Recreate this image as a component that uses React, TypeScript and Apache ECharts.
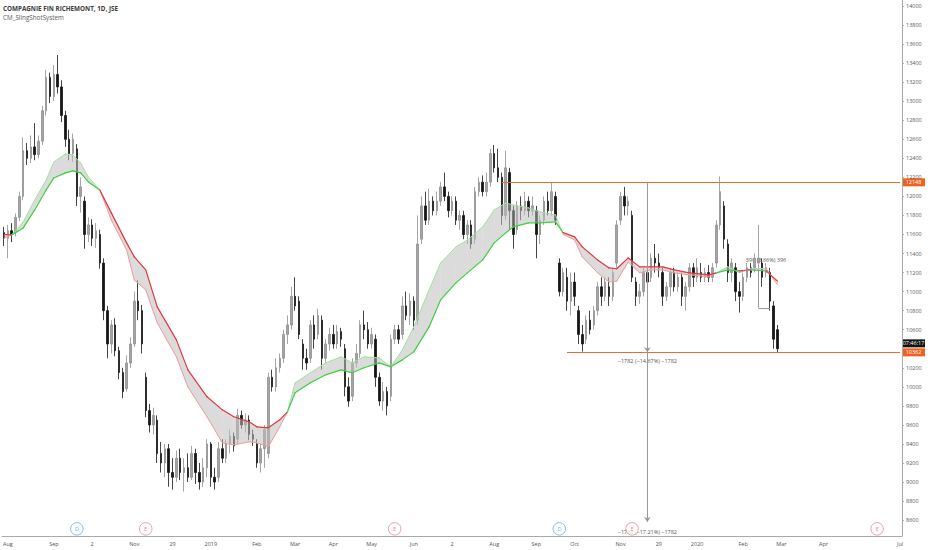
import React, { useEffect, useRef } from "react";
import * as echarts from "echarts";

const TITLE = "COMPAGNIE FIN RICHEMONT, 1D, JSE";
const INDICATOR = "CM_SlingShotSystem";

// one slot per bar, the last ones are the empty space on the right
const SLOT_COUNT = 235;

// x axis: [slot, label]
const xTicks: [number, string][] = [
  [1, "Aug"], [13, "Sep"], [23, "2"], [34, "Nov"], [44, "29"], [54, "2019"],
  [66, "Feb"], [76, "Mar"], [86, "Apr"], [96, "May"], [107, "Jun"], [117, "2"],
  [128, "Aug"], [139, "Sep"], [149, "Oct"], [161, "Nov"], [171, "29"], [181, "2020"],
  [193, "Feb"], [203, "Mar"], [214, "Apr"], [234, "Jul"],
];

const yTicks = [
  8600, 8800, 9000, 9200, 9400, 9600, 9800, 10000, 10200, 10400, 10600, 10800,
  11000, 11200, 11400, 11600, 11800, 12000, 12200, 12400, 12600, 12800, 13000,
  13200, 13400, 13600, 13800, 14000,
];
// 10400 sits under the price badges, so it gets no label
const yLabels = [
  8600, 8800, 9000, 9200, 9400, 9600, 9800, 10000, 10200, 10600, 10800,
  11000, 11200, 11400, 11600, 11800, 12000, 12200, 12400, 12600, 12800, 13000,
  13200, 13400, 13600, 13800, 14000,
];

// [open, close, low, high]
const candles: number[][] = [
  [11620, 11560, 11480, 11680], [11560, 11640, 11350, 11700], [11640, 11600, 11520, 11720],
  [11620, 11780, 11580, 11820], [11780, 12000, 11740, 12050], [12000, 12480, 11960, 12620],
  [12480, 12400, 12330, 12560], [12400, 12520, 12350, 12640], [12520, 12440, 12380, 12770],
  [12440, 12580, 12400, 12640], [12580, 12900, 12540, 12950], [12900, 13250, 12850, 13330],
  [13250, 13050, 12980, 13300], [13050, 13280, 13000, 13380], [13280, 13150, 13080, 13485],
  [13150, 12850, 12780, 13220], [12850, 12600, 12520, 12900], [12600, 12450, 12380, 12700],
  [12450, 12600, 12360, 12660], [12500, 12000, 11900, 12550], [12000, 12100, 11830, 12200],
  [11950, 11600, 11450, 12000], [11600, 11700, 11520, 11780], [11700, 11560, 11480, 11760],
  [11560, 11640, 11460, 11720], [11600, 11300, 11240, 11650], [11300, 10800, 10700, 11350],
  [10800, 10450, 10300, 10850], [10450, 10650, 10350, 10700], [10650, 10380, 10320, 10720],
  [10380, 10150, 10080, 10420], [10150, 9950, 9880, 10200], [9980, 10250, 9950, 10330],
  [10250, 10450, 10200, 10520], [10450, 10900, 10420, 11000], [10900, 10800, 10700, 11120],
  [10800, 10450, 10350, 10860], [10100, 9750, 9680, 10150], [9750, 9600, 9520, 9820],
  [9600, 9700, 9500, 9780], [9650, 9300, 9200, 9700], [9300, 9200, 9100, 9420],
  [9200, 9350, 9050, 9400], [9350, 9100, 8950, 9400], [9100, 9050, 8920, 9250],
  [9050, 9250, 9000, 9330], [9250, 9100, 9020, 9350], [9100, 9150, 8900, 9250],
  [9150, 9050, 9000, 9300], [9050, 9300, 9020, 9380], [9300, 9100, 8980, 9350],
  [9100, 9000, 8920, 9200], [9000, 9150, 8950, 9250], [9150, 9400, 9050, 9450],
  [9400, 9050, 8950, 9420], [9050, 9000, 8920, 9150], [9050, 9350, 9000, 9420],
  [9350, 9250, 9200, 9450], [9250, 9400, 9200, 9450], [9400, 9480, 9300, 9550],
  [9480, 9380, 9320, 9520], [9450, 9700, 9400, 9770], [9700, 9600, 9560, 9750],
  [9600, 9650, 9520, 9720], [9650, 9500, 9440, 9700], [9500, 9450, 9380, 9550],
  [9400, 9200, 9150, 9450], [9200, 9350, 9100, 9400], [9350, 9550, 9150, 9600],
  [9300, 10100, 9250, 10150], [10100, 10000, 9950, 10180], [10000, 10200, 9950, 10300],
  [10200, 10300, 10150, 10350], [10300, 10550, 10250, 10600], [10550, 10650, 10450, 10750],
  [10650, 10950, 10600, 11050], [10950, 10850, 10800, 11150], [10900, 10550, 10500, 10950],
  [10450, 10300, 10180, 10500], [10300, 10250, 10180, 10400], [10300, 10650, 10250, 10700],
  [10650, 10500, 10400, 10750], [10550, 10750, 10500, 10820], [10700, 10300, 10180, 10750],
  [10300, 10450, 10250, 10500], [10450, 10550, 10380, 10620], [10550, 10450, 10400, 10650],
  [10450, 10580, 10400, 10650], [10580, 10500, 10420, 10620], [10400, 10000, 9900, 10450],
  [10000, 9850, 9790, 10100], [9900, 10250, 9850, 10300], [10250, 10350, 10200, 10450],
  [10350, 10650, 10300, 10700], [10650, 10600, 10500, 10800], [10600, 10450, 10400, 10680],
  [10450, 10550, 10400, 10620], [10500, 10100, 10000, 10550], [10100, 9850, 9800, 10150],
  [9850, 9950, 9750, 10050], [9950, 9800, 9700, 10000], [9900, 10500, 9850, 10550],
  [10500, 10600, 10450, 10650], [10600, 10500, 10450, 10650], [10550, 10850, 10500, 10950],
  [10850, 10750, 10700, 11000], [10750, 10900, 10650, 10980], [10900, 10700, 10600, 10950],
  [10700, 11500, 10650, 11800], [11550, 11900, 11500, 12000], [11900, 11750, 11700, 12050],
  [11750, 11950, 11700, 12080], [11950, 11850, 11800, 12000], [11850, 11950, 11800, 12050],
  [11950, 12100, 11900, 12150], [12100, 12000, 11950, 12250], [12000, 11850, 11780, 12050],
  [11850, 11950, 11800, 12000], [11950, 11750, 11700, 12000], [11750, 11800, 11650, 11850],
  [11800, 11600, 11550, 11850], [11600, 11700, 11500, 11750], [11700, 11500, 11450, 11750],
  [11550, 12050, 11500, 12100], [12050, 12150, 12000, 12200], [12150, 12050, 12000, 12220],
  [12050, 12150, 12000, 12250], [12150, 12450, 12100, 12500], [12450, 12300, 12250, 12540],
  [12300, 12200, 12150, 12500], [12200, 11800, 11700, 12250], [11800, 12300, 11750, 12480],
  [12250, 11850, 11650, 12300], [11850, 11600, 11450, 11900], [11650, 11900, 11600, 11950],
  [11900, 11850, 11750, 12000], [11850, 11950, 11800, 12050], [11950, 11850, 11780, 12000],
  [11850, 11900, 11800, 12000], [11850, 11600, 11350, 11900], [11600, 11750, 11500, 11800],
  [11750, 11950, 11700, 12000], [11950, 11850, 11800, 12050], [11850, 12050, 11800, 12150],
  [12000, 11750, 11700, 12050], [11300, 11000, 10950, 11350], [11000, 11200, 10950, 11250],
  [11150, 10900, 10800, 11250], [10900, 11100, 10750, 11200], [11100, 10950, 10850, 11200],
  [10800, 10550, 10450, 10850], [10550, 10450, 10370, 10650], [10500, 10700, 10450, 10750],
  [10700, 10600, 10550, 10800], [10650, 10800, 10600, 10850], [10800, 11050, 10750, 11100],
  [11050, 10950, 10850, 11150], [10950, 11100, 10900, 11150], [11050, 10950, 10850, 11150],
  [10950, 11200, 10900, 11250], [11300, 11700, 11250, 11750], [11750, 12000, 11700, 12050],
  [12000, 11900, 11800, 12100], [11900, 11950, 11800, 12000], [11800, 11150, 11100, 11850],
  [11100, 10950, 10850, 11150], [10950, 11000, 10870, 11080], [11000, 11200, 10950, 11250],
  [11200, 11100, 11050, 11250], [11150, 11350, 11100, 11400], [11350, 11300, 11200, 11500],
  [11300, 11250, 11150, 11400], [11200, 10950, 10850, 11250], [10950, 11050, 10900, 11100],
  [11050, 11200, 10950, 11250], [11200, 11050, 11000, 11250], [11050, 11150, 11000, 11200],
  [11150, 10950, 10850, 11200], [10950, 11050, 10800, 11100], [11050, 11250, 11000, 11300],
  [11250, 11150, 11050, 11300], [11150, 11250, 11100, 11350], [11200, 11150, 11100, 11300],
  [11150, 11200, 11100, 11250], [11200, 11150, 11100, 11280], [11150, 11250, 11100, 11300],
  [11300, 11700, 11250, 11750], [11700, 12050, 11650, 12210], [11900, 11550, 11450, 11950],
  [11500, 11200, 11100, 11550], [11200, 11300, 11100, 11350], [11250, 11000, 10900, 11300],
  [11000, 10950, 10780, 11100], [10950, 11150, 10900, 11200], [11150, 11250, 11100, 11300],
  [11250, 11200, 11150, 11300], [11250, 11350, 11200, 11400], [11300, 11350, 11200, 11700],
  [11300, 11150, 11050, 11350], [11200, 11250, 11150, 11300], [11200, 10900, 10800, 11250],
  [10850, 10500, 10400, 10900], [10600, 10400, 10360, 10650],
];

// sling shot ribbon, read at these slots
const emaSlots = [
  0, 2, 5, 8, 11, 13, 16, 18, 20, 22, 25, 28, 32, 34, 37, 40, 45, 48, 53, 57, 60, 64,
  66, 69, 72, 74, 76, 80, 84, 88, 91, 94, 98, 101, 104, 107, 111, 114, 118, 121, 125,
  128, 131, 133, 137, 140, 144, 146, 149, 151, 155, 158, 160, 163, 166, 169, 172, 175,
  179, 184, 186, 189, 192, 195, 199, 202,
];
const emaFast = [
  11560, 11596, 11732, 11963, 12173, 12362, 12446, 12435, 12350, 12205, 12068, 11753,
  11438, 11123, 11018, 10672, 10315, 9999, 9685, 9412, 9390, 9422, 9412, 9370, 9580,
  9737, 10042, 10147, 10252, 10315, 10252, 10315, 10304, 10210, 10388, 10630, 11018,
  11302, 11470, 11543, 11680, 11858, 11932, 11910, 11879, 11837, 11806, 11600, 11543,
  11365, 11197, 11102, 11110, 11312, 11197, 11228, 11228, 11197, 11176, 11155, 11197,
  11260, 11200, 11240, 11245, 11070,
];
const emaSlow = [
  11600, 11596, 11669, 11858, 12068, 12194, 12247, 12268, 12247, 12152, 12068, 11827,
  11512, 11365, 11228, 10840, 10493, 10178, 9895, 9758, 9685, 9632, 9580, 9569, 9653,
  9737, 9937, 10042, 10126, 10178, 10147, 10200, 10252, 10210, 10283, 10367, 10630,
  10913, 11092, 11197, 11333, 11512, 11617, 11680, 11722, 11722, 11732, 11620, 11575,
  11470, 11333, 11249, 11240, 11354, 11260, 11260, 11260, 11228, 11197, 11176, 11197,
  11228, 11218, 11228, 11218, 11110,
];

// dividend / earnings flags along the bottom
const events: [number, string][] = [
  [19, "D"], [37, "E"], [102, "E"], [145, "D"], [164, "E"], [228, "E"],
];
const EVENT_LEVEL = 8508;

const RANGE_HIGH = 12148;
const RANGE_LOW = 10362;
const PROJECTED = 8580;
const MEASURE_BASE = 10830;
const MEASURE_TOP = 11226;

const FONT = '"Open Sans", "Liberation Sans", sans-serif';
const ORANGE = "#ef6a32";
const BADGE = "#f0611f";
const GREEN = "#3fcf3f";
const GREEN_SOFT = "#9fe39f";
const RED = "#e2363c";
const RED_SOFT = "#ef9a9a";
const BAND = "rgba(190,190,190,0.55)";

const App: React.FC = () => {
  const chartRef = useRef<HTMLDivElement | null>(null);

  useEffect(() => {
    const dom = chartRef.current;
    if (!dom) return;
    const chart = echarts.init(dom, undefined, { renderer: "svg" });

    const labelMap: Record<number, string> = {};
    xTicks.forEach(([s, t]) => (labelMap[s] = t));
    const categories = Array.from({ length: SLOT_COUNT }, (_, i) => String(i));
    const showTick = (i: number) => labelMap[i] !== undefined;

    const gray = { color: "#9a9a9a", width: 1, type: "solid" };

    const option: any = {
      animation: false,
      grid: { left: 0, right: 30, top: 0, bottom: 14 },
      xAxis: {
        type: "category",
        data: categories,
        boundaryGap: true,
        axisLine: { lineStyle: { color: "#aaaaaa" } },
        axisTick: { alignWithLabel: true, interval: showTick, length: 2, lineStyle: { color: "#aaaaaa" } },
        axisLabel: {
          interval: showTick,
          formatter: (_: string, i: number) => labelMap[i] ?? "",
          fontSize: 5.5,
          color: "#555",
          margin: 5,
          fontFamily: FONT,
        },
        splitLine: { show: false },
      },
      yAxis: {
        type: "value",
        position: "right",
        min: 8433,
        max: 14063,
        axisLine: { show: true, lineStyle: { color: "#aaaaaa" } },
        axisTick: { show: true, length: 2, customValues: yTicks, lineStyle: { color: "#aaaaaa" } },
        axisLabel: {
          customValues: yLabels,
          formatter: (v: number) => String(v),
          fontSize: 5.5,
          color: "#555",
          margin: 4,
          fontFamily: FONT,
        },
        splitLine: { show: false },
      },
      series: [
        {
          type: "candlestick",
          data: candles,
          barWidth: 2,
          itemStyle: {
            color: "#a3a3a3",
            color0: "#151515",
            borderColor: "#8f8f8f",
            borderColor0: "#151515",
            borderWidth: 0.8,
          },
          markLine: {
            silent: true,
            symbol: ["none", "none"],
            label: { show: false },
            data: [
              [
                { coord: [130, RANGE_HIGH], lineStyle: { color: ORANGE, width: 1, type: "solid" } },
                { coord: [SLOT_COUNT - 1, RANGE_HIGH] },
              ],
              [
                { coord: [147, RANGE_LOW], lineStyle: { color: ORANGE, width: 1, type: "solid" } },
                { coord: [SLOT_COUNT - 1, RANGE_LOW] },
              ],
              [
                { coord: [168, RANGE_HIGH], lineStyle: gray },
                { coord: [168, RANGE_LOW], symbol: "arrow", symbolSize: [5, 5] },
              ],
              [
                { coord: [168, RANGE_LOW], lineStyle: gray },
                { coord: [168, PROJECTED], symbol: "arrow", symbolSize: [5, 5] },
              ],
              [
                { coord: [197, MEASURE_BASE], lineStyle: gray },
                { coord: [200, MEASURE_BASE] },
              ],
              [
                { coord: [197, MEASURE_BASE], lineStyle: gray },
                { coord: [197, MEASURE_TOP] },
              ],
              [
                { coord: [193, MEASURE_TOP], lineStyle: { color: "#9a9a9a", width: 1, type: "dotted" } },
                { coord: [200, MEASURE_TOP] },
              ],
            ],
          },
        },
        {
          type: "custom",
          data: emaSlots.map((s, i) => [s, emaFast[i], emaSlow[i]]),
          encode: { x: 0, y: [1, 2] },
          z: 3,
          renderItem: (params: any, api: any) => {
            const i = params.dataIndex;
            if (i >= emaSlots.length - 1) return null;
            const a = api.coord([emaSlots[i], emaFast[i]]);
            const b = api.coord([emaSlots[i + 1], emaFast[i + 1]]);
            const c = api.coord([emaSlots[i + 1], emaSlow[i + 1]]);
            const d = api.coord([emaSlots[i], emaSlow[i]]);
            const up = emaFast[i] + emaFast[i + 1] >= emaSlow[i] + emaSlow[i + 1];
            return {
              type: "group",
              children: [
                { type: "polygon", shape: { points: [a, b, c, d] }, style: { fill: BAND, stroke: null } },
                {
                  type: "line",
                  shape: { x1: a[0], y1: a[1], x2: b[0], y2: b[1] },
                  style: { stroke: up ? GREEN_SOFT : RED_SOFT, lineWidth: 1, lineCap: "round" },
                },
                {
                  type: "line",
                  shape: { x1: d[0], y1: d[1], x2: c[0], y2: c[1] },
                  style: { stroke: up ? GREEN : RED, lineWidth: 1.2, lineCap: "round" },
                },
              ],
            };
          },
        },
        {
          type: "scatter",
          z: 5,
          symbol: "circle",
          symbolSize: 12.5,
          data: events.map(([s, t]) => {
            const col = t === "D" ? "#3d9be9" : "#e06a82";
            return {
              value: [s, EVENT_LEVEL, t],
              itemStyle: { color: "#ffffff", borderColor: col, borderWidth: 0.8 },
              label: { color: col },
            };
          }),
          label: {
            show: true,
            position: "inside",
            formatter: (p: any) => p.data.value[2],
            fontSize: 6,
            fontFamily: FONT,
          },
        },
      ],
    };

    chart.setOption(option);

    const px = (slot: number, price: number) =>
      chart.convertToPixel({ gridIndex: 0 }, [slot, price]) as number[];
    const text = (x: number, y: number, t: string, z = 1) => ({
      type: "text",
      x,
      y,
      z,
      style: {
        text: t,
        fill: "#555",
        font: `5.5px ${FONT}`,
        align: "center",
        textAlign: "center",
        verticalAlign: "middle",
        textVerticalAlign: "middle",
      },
    });
    const badge = (y: number, t: string, fill: string) => ({
      type: "group",
      x: 902,
      y: y - 4,
      z: 100,
      children: [
        { type: "rect", shape: { x: 0, y: 0, width: 23, height: 8 }, style: { fill } },
        {
          type: "text",
          x: 11.5,
          y: 4,
          style: {
            text: t,
            fill: "#ffffff",
            font: `5.5px ${FONT}`,
            align: "center",
            textAlign: "center",
            verticalAlign: "middle",
            textVerticalAlign: "middle",
          },
        },
      ],
    });

    const hi = px(0, RANGE_HIGH)[1];
    const lo = px(0, RANGE_LOW)[1];
    const mx = px(168, RANGE_LOW)[0];
    chart.setOption({
      graphic: [
        {
          type: "text",
          left: 3,
          top: 5,
          style: { text: TITLE, fill: "#3a3a3a", font: `bold 6.3px ${FONT}` },
        },
        {
          type: "text",
          left: 3,
          top: 14,
          style: { text: INDICATOR, fill: "#5a5a5a", font: `6.3px ${FONT}` },
        },
        badge(hi, String(RANGE_HIGH), BADGE),
        badge(lo, String(RANGE_LOW), BADGE),
        badge(lo - 9, "07:46:17", "#131313"),
        text(mx, lo + 9, "\u22121782 (\u221214.67%) \u22121782"),
        text(mx, px(168, PROJECTED)[1] + 10, "\u22121782 (\u221217.21%) \u22121782", 1),
        text(px(199, MEASURE_TOP)[0], px(199, MEASURE_TOP)[1] - 10, "396 (3.66%) 396"),
      ],
    });

    return () => {
      chart.dispose();
    };
  }, []);

  return (
    <div
      ref={chartRef}
      style={{ position: "fixed", left: 0, top: 0, width: 932, height: 550, background: "#fff" }}
    ></div>
  );
};

export default App;
